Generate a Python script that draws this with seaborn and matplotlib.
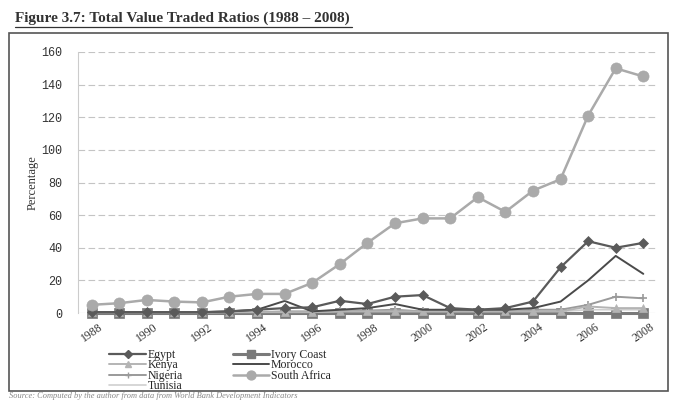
import numpy as np
import pandas as pd
import matplotlib
matplotlib.use("Agg")
import matplotlib.pyplot as plt
import seaborn as sns
from matplotlib.lines import Line2D
from matplotlib.patches import Rectangle

years = list(range(1988, 2009))

egypt = [0.5, 0.5, 0.5, 0.5, 0.5, 1, 2, 3, 3.5, 7.5, 5.5, 10, 11, 3, 2, 3, 7, 28, 44, 40, 43]
ivory_coast = [0, 0, 0, 0, 0, 0, 0, 0, 0, 0, 0, 0, 0, 0, 0, 0, 0, 0, 0, 0, 0]
kenya = [0.5, 0.5, 0.5, 0.5, 0.5, 0.5, 0.5, 0.5, 0.5, 1, 1, 1, 1, 1, 1, 1, 1, 1, 4, 3, 3]
morocco = [0.5, 0.5, 0.5, 0.5, 0.5, 1, 2, 7.4, 1, 2, 3, 5.5, 2, 2, 2, 2, 3, 7, 20, 35, 24]
nigeria = [0.3, 0.3, 0.3, 0.3, 0.3, 0.5, 0.5, 1, 1, 1.5, 1.5, 2, 1, 1, 1, 1, 2, 2, 5, 10, 9]
south_africa = [5, 6, 8, 7, 6.5, 10, 11.7, 11.7, 18.5, 30, 43, 55, 58, 58, 71, 62, 75, 82, 121, 150, 145]
tunisia = [0.3, 0.3, 0.3, 0.3, 0.3, 0.5, 0.5, 0.5, 0.5, 1, 1, 1, 1, 1, 1, 1, 1, 1, 2, 2, 2]

countries = ["Egypt", "Ivory Coast", "Kenya", "Morocco", "Nigeria", "South Africa", "Tunisia"]
series = [egypt, ivory_coast, kenya, morocco, nigeria, south_africa, tunisia]

colors = {"Egypt": "#5a5a5a", "Ivory Coast": "#7a7a7a", "Kenya": "#b4b4b4",
          "Morocco": "#4a4a4a", "Nigeria": "#9a9a9a", "South Africa": "#aaaaaa",
          "Tunisia": "#cfcfcf"}
markers = {"Egypt": "D", "Ivory Coast": "s", "Kenya": "^", "Morocco": "",
           "Nigeria": "+", "South Africa": "o", "Tunisia": ""}
msizes = {"Egypt": 5, "Ivory Coast": 7, "Kenya": 6, "Morocco": 0,
          "Nigeria": 6, "South Africa": 8, "Tunisia": 0}
lwidths = {"Egypt": 1.6, "Ivory Coast": 2.2, "Kenya": 1.4, "Morocco": 1.4,
           "Nigeria": 1.4, "South Africa": 1.8, "Tunisia": 1.2}

df = pd.DataFrame({"year": np.repeat(years, len(countries)),
                   "country": countries * len(years)})
df["value"] = [series[j][i] for i in range(len(years)) for j in range(len(countries))]

sns.set_style("white")
plt.rcParams["font.family"] = ["Liberation Serif", "DejaVu Serif"]

fig = plt.figure(figsize=(6.76, 4.0), dpi=100)
ax = fig.add_axes([0.115, 0.2175, 0.855, 0.6525])

# draw back to front so South Africa and Egypt sit on top
order = ["Ivory Coast", "Tunisia", "Nigeria", "Kenya", "Morocco", "Egypt", "South Africa"]
for c in order:
    sub = df[df["country"] == c]
    sns.lineplot(data=sub, x="year", y="value", ax=ax, color=colors[c],
                 marker=markers[c] if markers[c] else None, markersize=msizes[c],
                 markeredgecolor=colors[c], markeredgewidth=1.2 if markers[c] == "+" else 0.5,
                 linewidth=lwidths[c], clip_on=False, legend=False)

ax.set_xlim(1987.5, 2008.45)
ax.set_ylim(0, 160)
ax.set_yticks(range(0, 161, 20))
ax.set_xticks(range(1988, 2009, 2))
ax.set_xticklabels([str(y) for y in range(1988, 2009, 2)], rotation=35,
                   ha="center", fontsize=8.5, color="#333333")
ax.tick_params(axis="x", pad=6, length=0)
ax.tick_params(axis="y", labelsize=8.5, length=0, labelcolor="#333333", pad=11)
for lab in ax.get_yticklabels():
    lab.set_family(["Liberation Mono", "DejaVu Sans Mono"])
ax.yaxis.grid(True, linestyle=(0, (6, 3)), color="#c4c4c4", linewidth=0.8)
ax.set_xlabel("")
ax.set_ylabel("Percentage", fontsize=9, color="#333333", labelpad=2)
for s in ["top", "right", "bottom"]:
    ax.spines[s].set_visible(False)
ax.spines["left"].set_color("#cccccc")
ax.spines["left"].set_linewidth(0.8)

# legend in row order: Egypt/Ivory Coast, Kenya/Morocco, Nigeria/South Africa, Tunisia
def handle(c):
    return Line2D([], [], color=colors[c], marker=markers[c] if markers[c] else None,
                  markersize=msizes[c] * 0.8, markeredgecolor=colors[c], linewidth=lwidths[c])

leg_order = ["Egypt", "Kenya", "Nigeria", "Tunisia", "Ivory Coast", "Morocco", "South Africa"]
fig.legend([handle(c) for c in leg_order], leg_order, loc="upper left",
           bbox_to_anchor=(0.153, 0.143), ncol=2, frameon=False, fontsize=8.5,
           handlelength=3.1, handletextpad=0.15, columnspacing=4.2, labelspacing=-0.12,
           borderpad=0)

# outer frame
fig.patches.append(Rectangle((0.013, 0.022), 0.975, 0.895, transform=fig.transFigure,
                             fill=False, edgecolor="#555555", linewidth=1.2))

# title with underline
fig.text(0.022, 0.955, "Figure 3.7: Total Value Traded Ratios (1988 \u2013 2008)",
         fontsize=11, fontweight="bold", color="#333333", va="center", ha="left")
fig.add_artist(Line2D([0.022, 0.52], [0.932, 0.932], transform=fig.transFigure,
                      color="#333333", linewidth=0.9))

fig.text(0.013, 0.001, "Source: Computed by the author from data from World Bank Development Indicators",
         fontsize=6, color="#888888", va="bottom", ha="left", style="italic")

fig.savefig("out.png", dpi=100)
